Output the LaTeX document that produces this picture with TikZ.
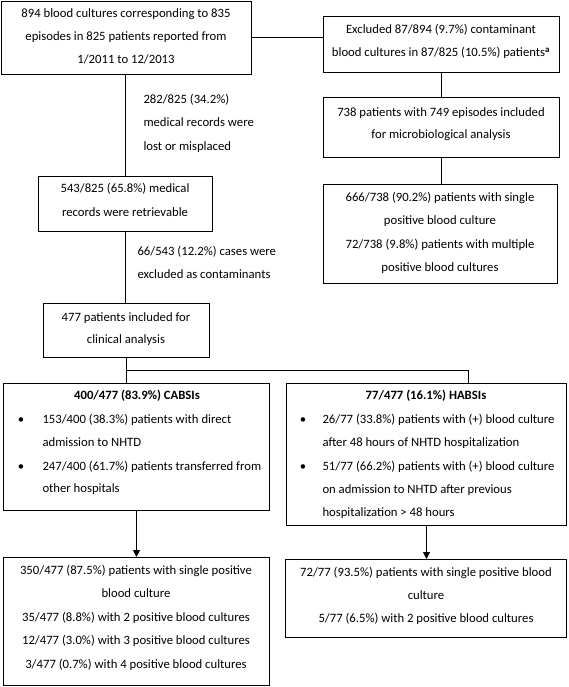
\documentclass[tikz,border=0pt]{standalone}
\usepackage{fontspec}
\setmainfont{Carlito}
\usetikzlibrary{arrows.meta}
\newcommand\fsz{\fontsize{12.7}{15}\selectfont}
\begin{document}
\begin{tikzpicture}[x=1pt,y=-1pt,line width=1pt,
  box/.style={draw,rectangle,inner sep=0pt,anchor=north west},
  ln/.style={anchor=base,inner sep=0pt,font=\fsz},
  lnl/.style={anchor=base west,inner sep=0pt,font=\fsz},
  arr/.style={-{Triangle[length=7pt,width=7pt]}}]
\useasboundingbox (0,0) rectangle (568,687);
% boxes
\node[box,minimum width=250,minimum height=73] (A) at (1,1) {};
\node[box,minimum width=236,minimum height=56] (B) at (323,16) {};
\node[box,minimum width=236,minimum height=60] (C) at (323,97) {};
\node[box,minimum width=234,minimum height=99] (D) at (323,184) {};
\node[box,minimum width=174,minimum height=55] (E) at (38,176) {};
\node[box,minimum width=166,minimum height=54] (F) at (43,303) {};
\node[box,minimum width=266,minimum height=127] (cab) at (3,383) {};
\node[box,minimum width=280,minimum height=142] (hab) at (286,383) {};
\node[box,minimum width=266,minimum height=128] (h1) at (3,557) {};
\node[box,minimum width=281,minimum height=78] (h2) at (285,559) {};
% texts
\node[ln] (a1) at (126,18) {894 blood cultures corresponding to 835};
\node[ln] (a2) at (126,41) {episodes in 825 patients reported from};
\node[ln] (a3) at (126,64) {1/2011 to 12/2013};
\node[ln] (b1) at (441,34) {Excluded 87/894 (9.7\%) contaminant};
\node[ln] (b2) at (441,57) {blood cultures in 87/825 (10.5\%) patients\textsuperscript{\bfseries a}};
\node[ln] (c1) at (441,117) {738 patients with 749 episodes included};
\node[ln] (c2) at (441,139) {for microbiological analysis};
\node[ln] (d1) at (440,201) {666/738 (90.2\%) patients with single};
\node[ln] (d2) at (440,224) {positive blood culture};
\node[ln] (d3) at (440,248) {72/738 (9.8\%) patients with multiple};
\node[ln] (d4) at (440,271) {positive blood cultures};
\node[ln] (e1) at (125,193) {543/825 (65.8\%) medical};
\node[ln] (e2) at (125,216) {records were retrievable};
\node[ln] (f1) at (126,321) {477 patients included for};
\node[ln] (f2) at (126,343) {clinical analysis};
\node[lnl] (l1) at (143,104) {282/825 (34.2\%)};
\node[lnl] (l2) at (143,127) {medical records were};
\node[lnl] (l3) at (143,150) {lost or misplaced};
\node[lnl] (m1) at (137,255) {66/543 (12.2\%) cases were};
\node[lnl] (m2) at (137,278) {excluded as contaminants};
% CABSI
\node[ln,font=\fsz\bfseries] (ct) at (137,399) {400/477 (83.9\%) CABSIs};
\node[ln] (cb1) at (21,423) {\textbullet};
\node[ln] (cb2) at (21,470) {\textbullet};
\node[lnl] (c11) at (42,423) {153/400 (38.3\%) patients with direct};
\node[lnl] (c12) at (42,446) {admission to NHTD};
\node[lnl] (c13) at (42,470) {247/400 (61.7\%) patients transferred from};
\node[lnl] (c14) at (42,492) {other hospitals};
% HABSI
\node[ln,font=\fsz\bfseries] (ht) at (426,399) {77/477 (16.1\%) HABSIs};
\node[ln] (hb1) at (303,423) {\textbullet};
\node[ln] (hb2) at (303,470) {\textbullet};
\node[lnl] (h11) at (322,423) {26/77 (33.8\%) patients with (+) blood culture};
\node[lnl] (h12) at (322,446) {after 48 hours of NHTD hospitalization};
\node[lnl] (h13) at (322,470) {51/77 (66.2\%) patients with (+) blood culture};
\node[lnl] (h14) at (322,493) {on admission to NHTD after previous};
\node[lnl] (h15) at (322,516) {hospitalization > 48 hours};
% bottom boxes
\node[ln] (p1) at (136,574) {350/477 (87.5\%) patients with single positive};
\node[ln] (p2) at (136,597) {blood culture};
\node[ln] (p3) at (136,621) {35/477 (8.8\%) with 2 positive blood cultures};
\node[ln] (p4) at (136,644) {12/477 (3.0\%) with 3 positive blood cultures};
\node[ln] (p5) at (136,668) {3/477 (0.7\%) with 4 positive blood cultures};
\node[ln] (q1) at (426,576) {72/77 (93.5\%) patients with single positive blood};
\node[ln] (q2) at (426,599) {culture};
\node[ln] (q3) at (426,622) {5/77 (6.5\%) with 2 positive blood cultures};
% connectors
\coordinate (jr) at (468,370);
\draw (A.east) -- (A.east -| B.west);
\draw (B.south) -- (B.south |- C.north);
\draw (C.south) -- (C.south |- D.north);
\draw (E.north |- A.south) -- (E.north);
\draw (E.south) -- (E.south |- F.north);
\draw (F.south) -- (F.south |- cab.north);
\draw (F.south |- jr) -| (hab.north -| jr);
\draw[arr] (cab.south) -- (cab.south |- h1.north);
\draw[arr] (hab.south) -- (hab.south |- h2.north);
\end{tikzpicture}
\end{document}
